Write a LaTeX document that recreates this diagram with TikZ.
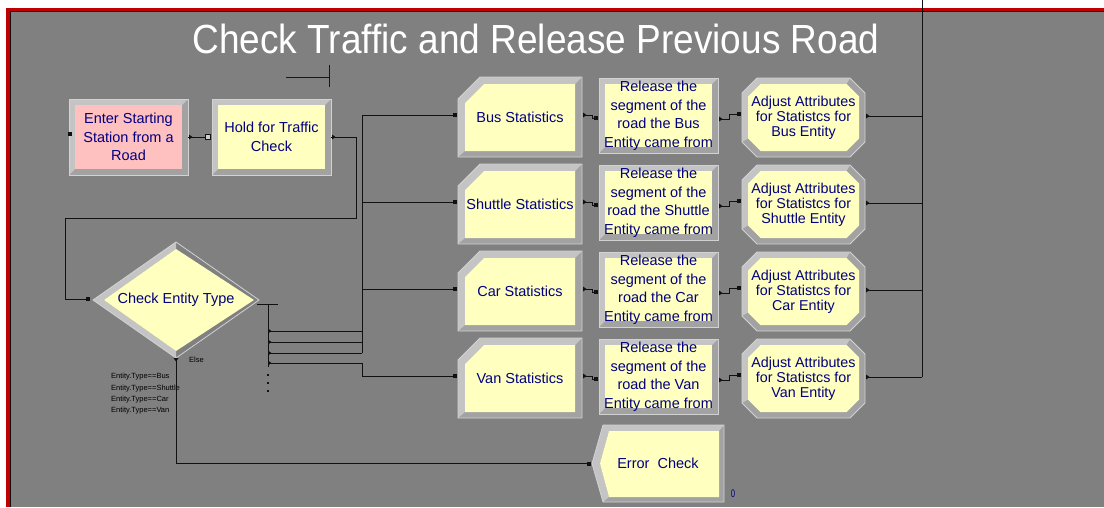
\documentclass[tikz,border=0pt]{standalone}
\usepackage{fontspec}
\setmainfont{Liberation Sans}
\usetikzlibrary{calc}

\definecolor{canvasgray}{HTML}{808080}
\definecolor{framered}{HTML}{C00000}
\definecolor{labelnavy}{HTML}{000080}
\definecolor{pinkfill}{HTML}{FFC0C0}
\definecolor{creamfill}{HTML}{FFFFC0}
\definecolor{bevlight}{HTML}{C4C4C4}
\definecolor{bevdark}{HTML}{A2A2A2}
\definecolor{bevedge}{HTML}{D2D2D2}
\definecolor{wirecol}{HTML}{111111}
\definecolor{markblue}{HTML}{0000C8}

\tikzset{
  wire/.style={draw=wirecol, line width=1pt},
  modtext/.style={text=labelnavy, align=center, inner sep=0pt, outer sep=0pt,
    font=\fontsize{14.5}{18.5}\selectfont},
  adjtext/.style={modtext, font=\fontsize{14.3}{14.8}\selectfont},
  condtext/.style={text=black, inner sep=0pt, anchor=west, font=\fontsize{7.5}{9}\selectfont},
  insq/.style={fill=wirecol, minimum size=4pt, inner sep=0pt, outer sep=0pt},
  opensq/.style={draw=wirecol, fill=canvasgray!40!white, minimum size=4.5pt,
    inner sep=0pt, outer sep=0pt, line width=0.8pt},
  exitmark/.pic={\fill[wirecol] (0,-2.5) -- (3.5,0) -- (0,2.5) -- cycle;},
  downmark/.pic={\fill[wirecol] (-2.5,0) -- (0,3.5) -- (2.5,0) -- cycle;},
}

% plain bevelled rectangle module: name, x1, y1, x2, y2, fill, text
\newcommand\rectmodule[7]{%
  \fill[bevdark] (#2,#3) rectangle (#4,#5);
  \fill[bevlight] (#2,#5) -- (#2,#3) -- (#4,#3) -- ({(#4)-6},{(#3)+6})
    -- ({(#2)+6},{(#3)+6}) -- ({(#2)+6},{(#5)-6}) -- cycle;
  \fill[#6] ({(#2)+6},{(#3)+6}) rectangle ({(#4)-6},{(#5)-6});
  \draw[bevedge, line width=0.8pt] (#2,#3) rectangle (#4,#5);
  \node[modtext, minimum width={((#4)-(#2))*1pt}, minimum height={((#5)-(#3))*1pt}]
    (#1) at ({((#2)+(#4))/2},{((#3)+(#5))/2}) {#7};
}

% record module with a cut top-left corner: name, x1, y1, x2, y2, text
\newcommand\chammodule[6]{%
  \fill[bevdark] (#2,{(#3)+22}) -- ({(#2)+22},#3) -- (#4,#3) -- (#4,#5) -- (#2,#5) -- cycle;
  \fill[bevlight] (#2,#5) -- (#2,{(#3)+22}) -- ({(#2)+22},#3) -- (#4,#3)
    -- ({(#4)-7},{(#3)+7}) -- ({(#2)+26},{(#3)+7}) -- ({(#2)+7},{(#3)+26})
    -- ({(#2)+7},{(#5)-6}) -- cycle;
  \fill[creamfill] ({(#2)+7},{(#3)+26}) -- ({(#2)+26},{(#3)+7}) -- ({(#4)-7},{(#3)+7})
    -- ({(#4)-7},{(#5)-6}) -- ({(#2)+7},{(#5)-6}) -- cycle;
  \draw[bevedge, line width=0.8pt] (#2,{(#3)+22}) -- ({(#2)+22},#3) -- (#4,#3)
    -- (#4,#5) -- (#2,#5) -- cycle;
  \node[modtext, minimum width={((#4)-(#2))*1pt}, minimum height={((#5)-(#3))*1pt}]
    (#1) at ({((#2)+(#4))/2},{((#3)+(#5))/2}) {#6};
}

% assign module, an octagon: name, x1, y1, x2, y2, text
\newcommand\octmodule[6]{%
  \fill[bevdark] (#2,{(#3)+15}) -- ({(#2)+15},#3) -- ({(#4)-15},#3) -- (#4,{(#3)+15})
    -- (#4,{(#5)-15}) -- ({(#4)-15},#5) -- ({(#2)+15},#5) -- (#2,{(#5)-15}) -- cycle;
  \fill[bevlight] (#2,{(#5)-15}) -- (#2,{(#3)+15}) -- ({(#2)+15},#3) -- ({(#4)-15},#3)
    -- ({(#4)-18.5},{(#3)+6}) -- ({(#2)+18.5},{(#3)+6}) -- ({(#2)+6},{(#3)+18.5})
    -- ({(#2)+6},{(#5)-18.5}) -- cycle;
  \fill[creamfill] ({(#2)+6},{(#3)+18.5}) -- ({(#2)+18.5},{(#3)+6}) -- ({(#4)-18.5},{(#3)+6})
    -- ({(#4)-6},{(#3)+18.5}) -- ({(#4)-6},{(#5)-18.5}) -- ({(#4)-18.5},{(#5)-6})
    -- ({(#2)+18.5},{(#5)-6}) -- ({(#2)+6},{(#5)-18.5}) -- cycle;
  \draw[bevedge, line width=0.8pt] (#2,{(#3)+15}) -- ({(#2)+15},#3) -- ({(#4)-15},#3)
    -- (#4,{(#3)+15}) -- (#4,{(#5)-15}) -- ({(#4)-15},#5) -- ({(#2)+15},#5)
    -- (#2,{(#5)-15}) -- cycle;
  \node[adjtext, minimum width={((#4)-(#2))*1pt}, minimum height={((#5)-(#3))*1pt}]
    (#1) at ({((#2)+(#4))/2},{((#3)+(#5))/2}) {#6};
}

\begin{document}
\begin{tikzpicture}[x=1pt, y=-1pt]
\useasboundingbox (0,0) rectangle (1104,507);

% canvas with its red frame
\fill[white] (0,0) rectangle (1104,507);
\fill[framered] (6,8) rectangle (1104,507);
\fill[canvasgray] (11,12) rectangle (1104,507);
\draw[wirecol, line width=1pt] (10.5,507) -- (10.5,11.5) -- (1104,11.5);

% heading
\node[text=white, anchor=base, inner sep=0pt] (title) at (536,53)
  {\fontsize{37}{40}\selectfont\scalebox{1}[1.1]{Check Traffic and Release Previous Road}};

% blue mark under the heading
\draw[markblue, line width=1pt] (286,77) -- (329,77) (329,65) -- (329,87);

% right-hand collector line
\coordinate (rtop) at (922,0);
\coordinate (rbot) at (922,377);
\draw[wire] (rtop) -- (rbot);

% create and hold
\rectmodule{enter}{69}{99}{188}{175}{pinkfill}{Enter Starting\\Station from a\\Road}
\rectmodule{hold}{212}{99}{331}{175}{creamfill}{Hold for Traffic\\Check}
\node[insq, minimum size=3.5pt] (enter-in) at ($(enter.west)+(1,-3)$) {};
\node[opensq] (hold-in) at ($(hold.west)+(-4,0)$) {};
\pic at ($(enter.east)+(1,0)$) {exitmark};
\draw[wire] (enter.east) -- (hold-in);

% decide
\fill[bevlight] (93,300) -- (176,242) -- (176,249) -- (104,300) -- (176,351) -- (176,358) -- cycle;
\fill[creamfill] (104,300) -- (176,249) -- (254,300) -- (176,351) -- cycle;
\draw[bevedge, line width=0.8pt] (93,300) -- (176,242) -- (259,300) -- (176,358) -- cycle;
\node[modtext, minimum width=166pt, minimum height=116pt] (check) at (176,300)
  {\raisebox{1.5pt}{Check Entity Type}};
\node[insq] (check-in) at ($(check.west)+(-5,-1)$) {};

% loop from the hold back into the decide
\coordinate (loopR) at (356,218);
\coordinate (loopL) at (65,218);
\pic at ($(hold.east)+(1,0)$) {exitmark};
\draw[wire] (hold.east) -| (loopR) -- (loopL) |- (check-in);

% decide outputs
\coordinate (fanL) at (257,304);
\coordinate (fanR) at (278,304);
\coordinate (fanTop) at (268,304);
\coordinate (fanBot) at (268,367);
\draw[wire] (fanL) -- (fanR);
\draw[wire] (fanTop) -- (fanBot);
\foreach \yy in {374,382,390} \fill[wirecol] (267.2,\yy) rectangle (268.8,{\yy+1.8});

\coordinate (trunkTop) at (362,115);
\coordinate (trunkBot) at (362,353);
\draw[wire] (trunkTop) -- (trunkBot);
\foreach \yy in {331,342,353} {
  \coordinate (br-\yy) at (268,\yy);
  \draw[wire] (br-\yy) -- (362,\yy);
  \pic at (br-\yy) {exitmark};
}
\coordinate (br-van) at (268,363);
\pic at (br-van) {exitmark};

% condition labels
\node[condtext] (cond-bus) at (111,377) {Entity.Type==Bus};
\node[condtext] (cond-shuttle) at (111,388.5) {Entity.Type==Shuttle};
\node[condtext] (cond-car) at (111,400) {Entity.Type==Car};
\node[condtext] (cond-van) at (111,411) {Entity.Type==Van};
\node[condtext] (cond-else) at (189,360) {Else};

% four vehicle rows
\foreach \n/\r/\lbl in {bus/0/Bus, shuttle/1/Shuttle, car/2/Car, van/3/Van} {
  \pgfmathsetmacro\dy{87*\r}
  \chammodule{\n-st}{458}{77+\dy}{582}{157+\dy}{\lbl\ Statistics}
  \rectmodule{\n-rel}{599}{78+\dy}{718}{153+\dy}{creamfill}%
    {Release the\\segment of the\\road the \lbl\\Entity came from}
  \octmodule{\n-adj}{742}{78+\dy}{865}{157+\dy}%
    {Adjust Attributes\\for Statistcs for\\\lbl\ Entity}
  \node[insq] (\n-sin) at ($(\n-st.west)+(-3,-2)$) {};
  \node[insq] (\n-rin) at ($(\n-rel.west)+(-3,2.5)$) {};
  \node[insq] (\n-ain) at ($(\n-adj.west)+(-3,-3.5)$) {};
  \pic at ($(\n-st.east)+(1,-2)$) {exitmark};
  \pic at ($(\n-rel.east)+(1,3.5)$) {exitmark};
  \pic at ($(\n-adj.east)+(1,-1.5)$) {exitmark};
  \draw[wire] ($(\n-st.east)+(1,-2)$) -- ++(9,0) |- (\n-rin);
  \draw[wire] ($(\n-rel.east)+(1,3.5)$) -- ++(10,0) |- (\n-ain);
  \draw[wire] ($(\n-adj.east)+(1,-1.5)$) -- (rtop |- {$(\n-adj.east)+(1,-1.5)$});
}
\draw[wire] (trunkTop) -- (bus-sin);
\draw[wire] (trunkTop |- shuttle-sin) -- (shuttle-sin);
\draw[wire] (trunkTop |- car-sin) -- (car-sin);
\draw[wire] (br-van) -- (trunkTop |- br-van) |- (van-sin);

% dispose for unexpected types
\fill[bevdark] (592,463.5) -- (603,425) -- (724,425) -- (724,502) -- (603,502) -- cycle;
\fill[bevlight] (592,463.5) -- (603,425) -- (724,425) -- (719,431) -- (609,431)
  -- (600,463.5) -- (609,497) -- (603,502) -- cycle;
\fill[creamfill] (600,463.5) -- (609,431) -- (719,431) -- (719,497) -- (609,497) -- cycle;
\draw[bevedge, line width=0.8pt] (592,463.5) -- (603,425) -- (724,425) -- (724,502) -- (603,502) -- cycle;
\node[modtext, minimum width=132pt, minimum height=77pt] (err) at (658,463.5) {Error\ \ Check};
\node[insq] (err-in) at ($(err.west)+(-3,0)$) {};
\node[text=labelnavy, inner sep=0pt, font=\fontsize{11}{12}\selectfont] (err-count) at (733,494)
  {\scalebox{0.7}[1]{0}};

% else branch
\pic at (check.south) {downmark};
\draw[wire] (check.south) |- (err-in);
\end{tikzpicture}
\end{document}
